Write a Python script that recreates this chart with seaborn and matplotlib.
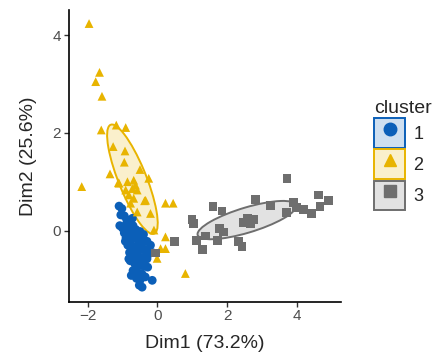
import numpy as np
import pandas as pd
import seaborn as sns
import matplotlib.pyplot as plt
from matplotlib.patches import Ellipse, Patch
from matplotlib.lines import Line2D
from matplotlib.legend_handler import HandlerTuple

# points (Dim1, Dim2)
dim1_c1 = [-1.10, -1.02, -0.95, -1.05, -1.08, -1.00, -0.90, -0.80, -0.70, -0.85, -0.95, -0.75,
           -0.62, -0.50, -0.40, -0.90, -0.78, -0.65, -0.55, -0.42, -0.30, -0.20, -0.85, -0.70,
           -0.58, -0.45, -0.32, -0.15, -0.80, -0.68, -0.55, -0.42, -0.30, -0.78, -0.65, -0.52,
           -0.40, -0.28, -0.70, -0.58, -0.45, -0.60, -0.50, -0.15, -0.52, -0.44, -0.75, -0.35,
           -0.88, -0.72, -0.60, -0.48, -0.82, -0.66, -0.38, -0.25, -0.62, -0.92]
dim2_c1 = [0.50, 0.45, 0.30, 0.32, 0.10, 0.05, 0.12, 0.15, 0.10, 0.00, -0.05, -0.05,
           0.02, -0.02, -0.08, -0.15, -0.18, -0.15, -0.20, -0.25, -0.22, -0.30, -0.30, -0.32,
           -0.35, -0.38, -0.40, -0.45, -0.45, -0.50, -0.52, -0.55, -0.58, -0.62, -0.68, -0.70,
           -0.72, -0.75, -0.82, -0.85, -0.88, -0.98, -1.02, -1.02, -1.12, -1.16, -0.92, -0.95,
           0.22, 0.25, -0.10, -0.12, -0.58, -0.40, -0.62, -0.48, -0.60, -0.22]

dim1_c2 = [-1.96, -1.66, -1.77, -1.59, -1.61, -1.18, -0.91, -1.27, -0.93, -1.36, -2.17, -1.12,
           -0.68, -0.25, -0.72, -0.91, -0.58, -0.82, -0.68, -0.37, -0.77, 0.23, 0.45, -1.10,
           -0.86, -0.63, -0.34, -0.20, -0.58, -0.10, 0.23, 0.09, 0.23, -0.01, 0.80, -0.95, -0.50]
dim2_c2 = [4.24, 3.24, 3.05, 2.75, 2.06, 2.16, 2.11, 1.72, 1.63, 1.16, 0.90, 0.98,
           1.03, 1.07, 0.86, 0.83, 0.83, 0.73, 0.66, 0.61, 0.56, 0.56, 0.56, 0.97,
           1.00, 0.93, 0.62, 0.35, 0.38, 0.01, -0.13, -0.37, -0.37, -0.57, -0.88, 1.40, 1.25]

dim1_c3 = [3.71, 4.61, 4.91, 4.66, 4.42, 4.18, 3.89, 3.99, 3.69, 3.23, 2.82, 1.59, 1.85,
           0.99, 1.04, 2.47, 2.58, 2.75, 2.66, 1.78, 1.89, 1.71, 1.37, 1.13, 1.28, 2.32,
           2.42, 0.49, -0.06]
dim2_c3 = [1.07, 0.73, 0.62, 0.50, 0.35, 0.43, 0.57, 0.47, 0.37, 0.52, 0.64, 0.49, 0.40,
           0.23, 0.15, 0.17, 0.25, 0.23, 0.15, 0.04, -0.03, -0.20, -0.11, -0.20, -0.39, -0.23,
           -0.32, -0.23, -0.46]

clusters = ["1", "2", "3"]
couleurs = ["#0B5FB8", "#E8B400", "#6E6E6E"]
marqueurs = ["o", "^", "s"]
niveau = 0.42

data = pd.DataFrame({
    "Dim1": dim1_c1 + dim1_c2 + dim1_c3,
    "Dim2": dim2_c1 + dim2_c2 + dim2_c3,
    "cluster": ["1"] * len(dim1_c1) + ["2"] * len(dim1_c2) + ["3"] * len(dim1_c3),
})

sns.set_style("white")
plt.rcParams["font.family"] = ["Liberation Sans", "DejaVu Sans"]

fig = plt.figure(figsize=(4.44, 3.53), dpi=100)
ax = fig.add_axes([0.155, 0.145, 0.613, 0.827])

# ellipses de concentration
k = np.sqrt(-2 * np.log(1 - niveau))
for c, col in zip(clusters, couleurs):
    sub = data[data["cluster"] == c][["Dim1", "Dim2"]].to_numpy()
    centre = sub.mean(axis=0)
    vals, vecs = np.linalg.eigh(np.cov(sub.T))
    angle = np.degrees(np.arctan2(vecs[1, 1], vecs[0, 1]))
    w, h = 2 * k * np.sqrt(vals[1]), 2 * k * np.sqrt(vals[0])
    ax.add_patch(Ellipse(centre, w, h, angle=angle, facecolor=col, alpha=0.2,
                         edgecolor="none", zorder=1))
    ax.add_patch(Ellipse(centre, w, h, angle=angle, facecolor="none", edgecolor=col,
                         lw=1.4, zorder=1))

sns.scatterplot(data=data, x="Dim1", y="Dim2", hue="cluster", style="cluster",
                palette=dict(zip(clusters, couleurs)), markers=dict(zip(clusters, marqueurs)),
                s=40, linewidth=0, legend=False, ax=ax, zorder=2)

ax.set_xlim(-2.54, 5.26)
ax.set_ylim(-1.46, 4.52)
ax.set_xticks([-2, 0, 2, 4])
ax.set_yticks([0, 2, 4])
ax.set_xlabel("Dim1 (73.2%)", fontsize=14, labelpad=8)
ax.set_ylabel("Dim2 (25.6%)", fontsize=14, labelpad=11)
for s in ["top", "right"]:
    ax.spines[s].set_visible(False)
for s in ["left", "bottom"]:
    ax.spines[s].set_color("black")
    ax.spines[s].set_linewidth(1.2)
ax.tick_params(axis="both", length=3.5, width=1, color="#333333", labelcolor="#4D4D4D",
               labelsize=11, direction="out", left=True, bottom=True, pad=2)

handles = []
for col, m in zip(couleurs, marqueurs):
    box = Patch(facecolor=col, alpha=0.2, edgecolor="none")
    bord = Patch(facecolor="none", edgecolor=col, linewidth=1.4)
    pt = Line2D([], [], marker=m, color=col, linestyle="none", markersize=9)
    handles.append((box, bord, pt))
leg = fig.legend(handles, clusters, title="cluster", loc="upper left",
                 bbox_to_anchor=(0.843, 0.717), frameon=False, fontsize=13,
                 title_fontsize=14, handler_map={tuple: HandlerTuple(ndivide=1, pad=0)},
                 handlelength=1.72, handleheight=2.15, labelspacing=0.08, handletextpad=0.45,
                 borderpad=0, borderaxespad=0)
leg._legend_box.align = "left"

fig.savefig("out.png", dpi=100)
